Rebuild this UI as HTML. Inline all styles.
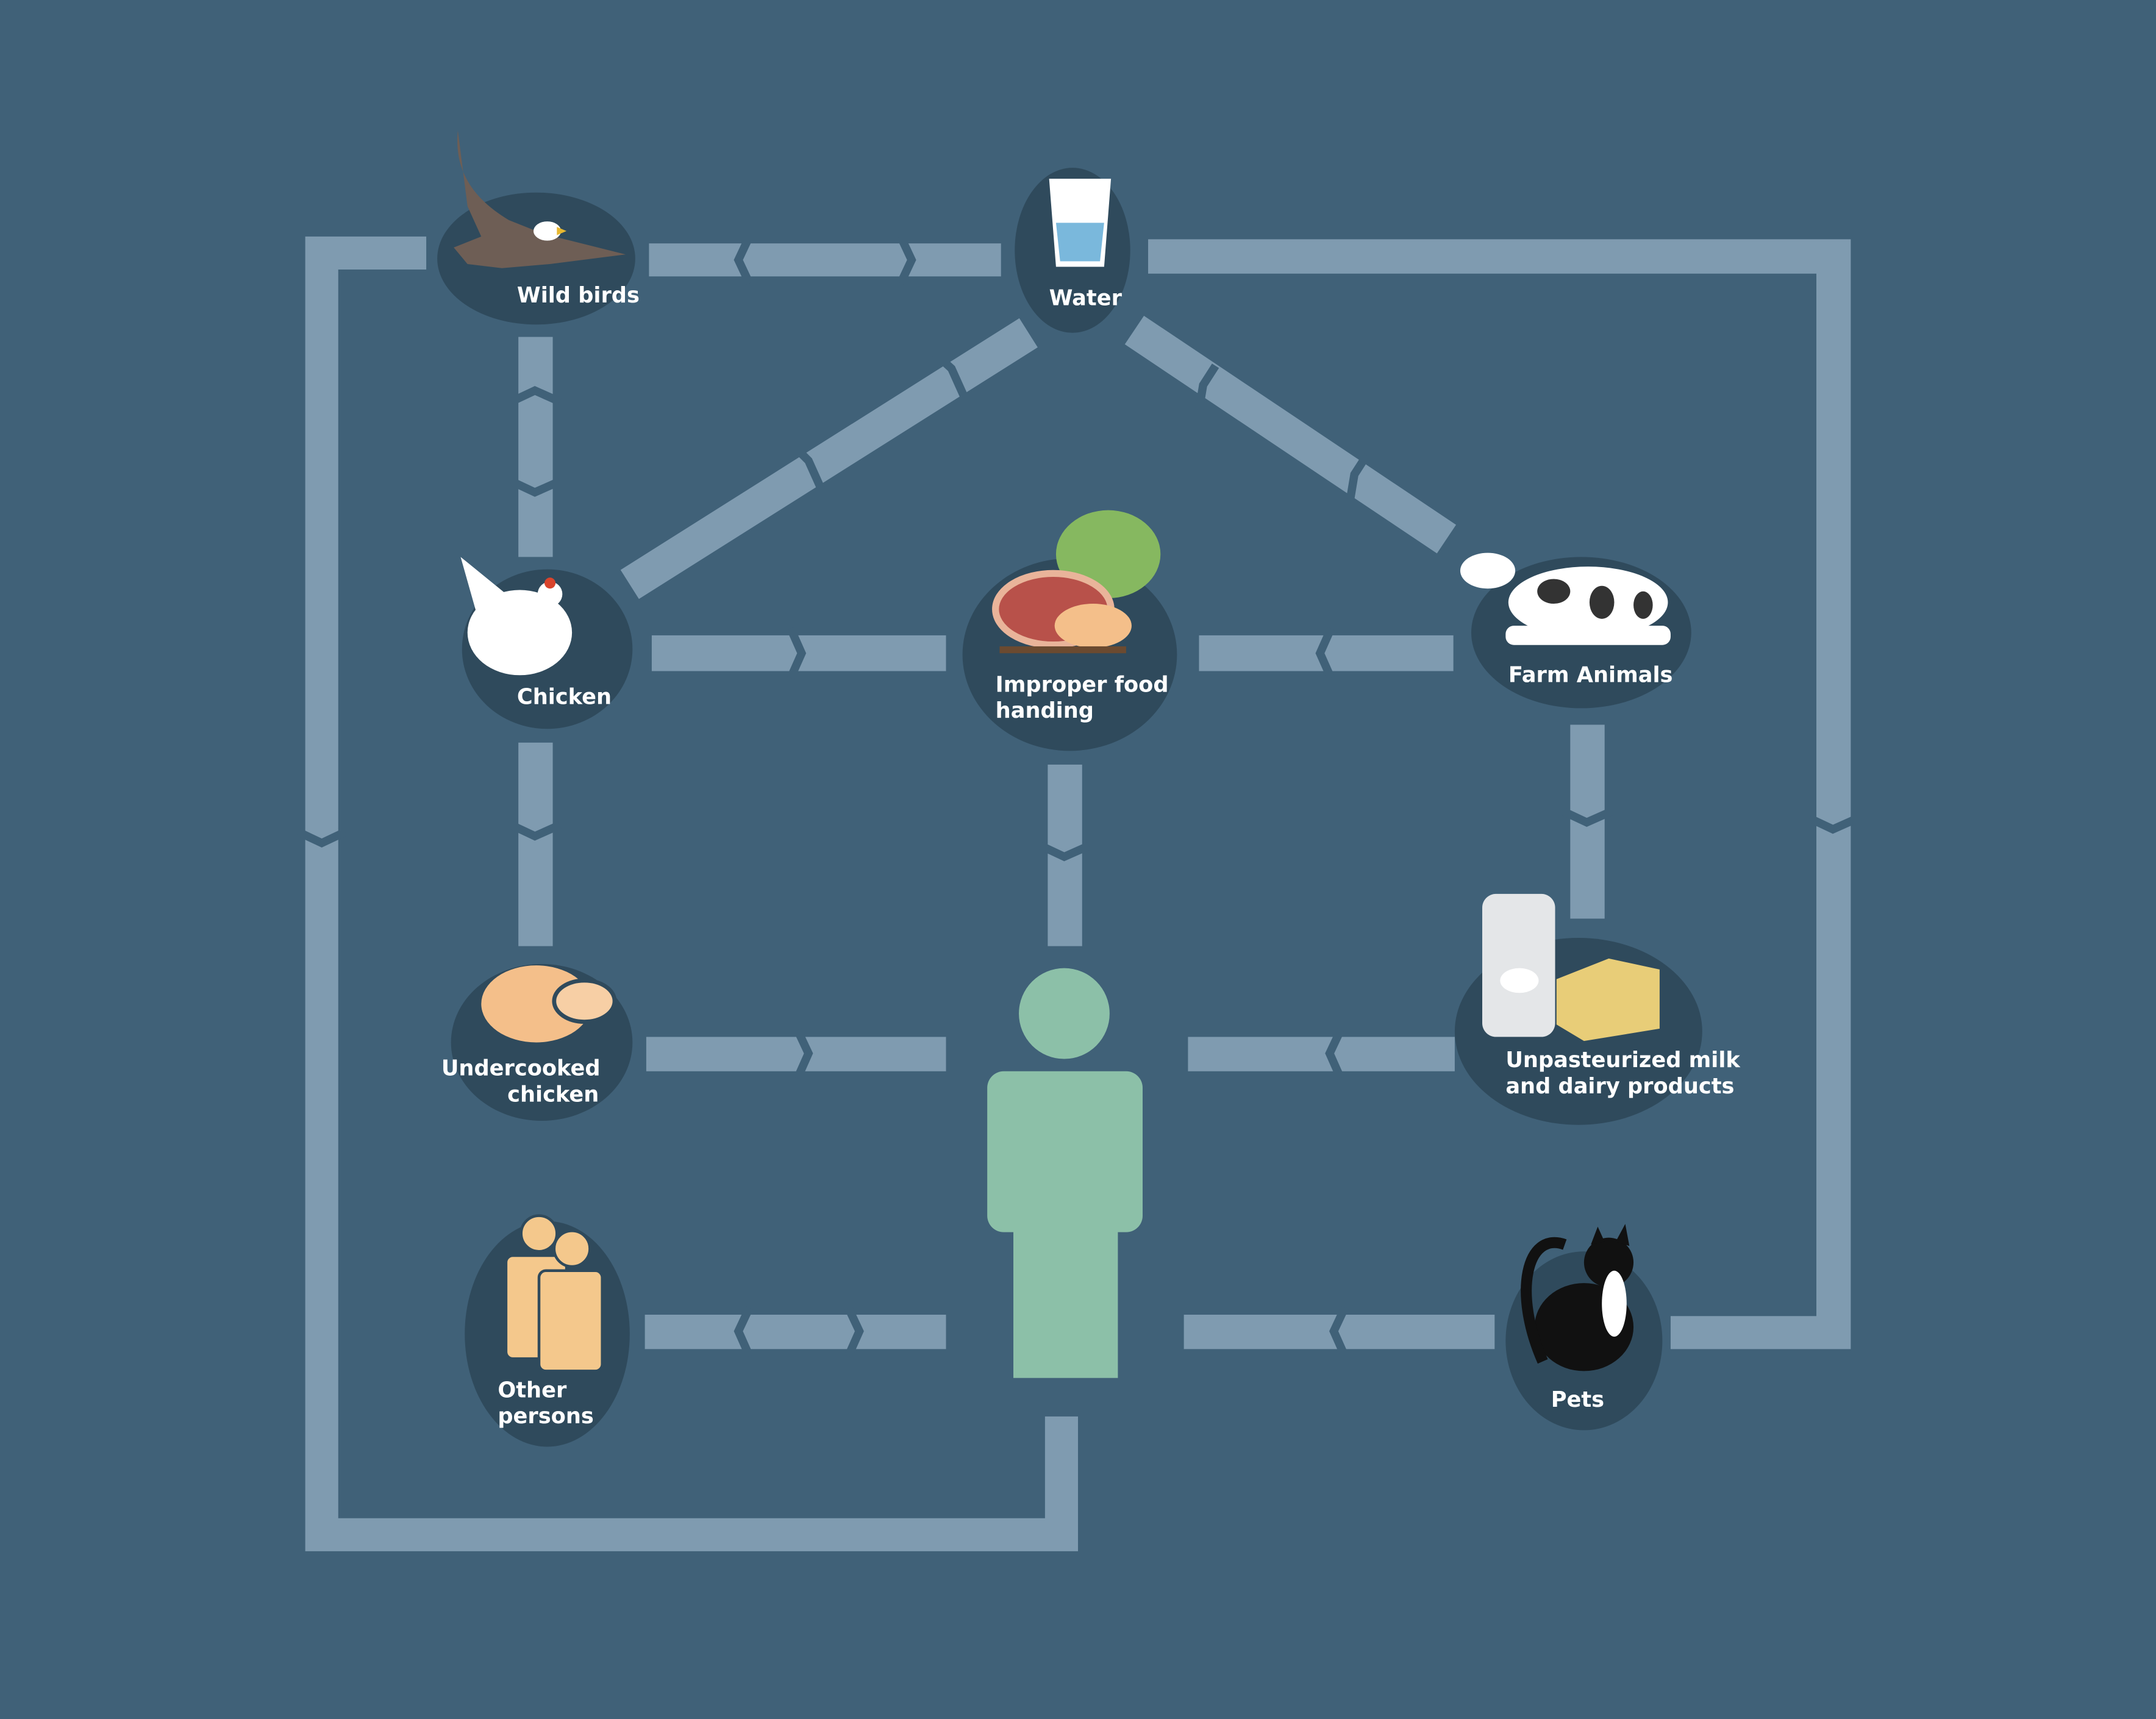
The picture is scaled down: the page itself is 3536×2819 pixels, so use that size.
<!DOCTYPE html>
<html><head><meta charset="utf-8"><style>
html,body{margin:0;padding:0;background:#406178;}
svg{display:block}
text{font-family:"DejaVu Sans","Liberation Sans",sans-serif;font-weight:bold;font-size:15.6px;fill:#fff}
</style></head><body>
<svg width="3536" height="2819" viewBox="0 0 1568 1250" preserveAspectRatio="none" xmlns="http://www.w3.org/2000/svg">
<rect width="1568" height="1250" fill="#406178"/>
<g fill="#7f9bb0">
 <polygon points="222,172 310,172 310,196 246,196 246,1104 760,1104 760,1030 784,1030 784,1128 222,1128"/>
 <polygon points="835,174 1346,174 1346,981 1215,981 1215,957 1321,957 1321,199 835,199"/>
 <rect x="472" y="177" width="256" height="24"/>
 <rect x="377" y="245" width="25" height="160"/>
 <rect x="377" y="540" width="25" height="148"/>
 <rect x="474" y="462" width="214" height="26"/>
 <rect x="872" y="462" width="185" height="26"/>
 <rect x="762" y="556" width="25" height="132"/>
 <rect x="470" y="754" width="218" height="25"/>
 <rect x="864" y="754" width="194" height="25"/>
 <rect x="469" y="956" width="219" height="25"/>
 <rect x="861" y="956" width="226" height="25"/>
 <rect x="1142" y="527" width="25" height="141"/>
 <line x1="748" y1="242" x2="458" y2="425" stroke="#7f9bb0" stroke-width="25"/>
 <line x1="825" y1="240" x2="1052" y2="392" stroke="#7f9bb0" stroke-width="25"/>
</g>
<g fill="none" stroke="#406178" stroke-width="6">
 <polyline points="545,172 537,189 545,206"/><polyline points="655,172 663,189 655,206"/>
 <polyline points="372,292 389,284 407,292"/><polyline points="372,350 389,358 407,350"/>
 <polyline points="372,600 389,608 407,600"/>
 <polyline points="575,457 583,475 575,493"/>
 <polyline points="968,457 960,475 968,493"/>
 <polyline points="757,615 774,623 792,615"/>
 <polyline points="580,749 588,766 580,784"/>
 <polyline points="975,749 967,766 975,784"/>
 <polyline points="545,951 537,968 545,986"/><polyline points="617,951 625,968 617,986"/>
 <polyline points="978,951 970,968 978,986"/>
 <polyline points="1137,590 1154,598 1172,590"/>
 <polyline points="217,605 234,613 251,605"/>
 <polyline points="1316,595 1333,603 1351,595"/>
 <polyline points="680,257 692,268 701,288"/><polyline points="576,323 588,335 597,355"/>
 <polyline points="884,266 875,280 872,298"/><polyline points="994,331 985,345 982,363"/>
</g>
<g fill="#2f4a5c">
 <ellipse cx="390" cy="188" rx="72" ry="48"/>
 <ellipse cx="780" cy="182" rx="42" ry="60"/>
 <ellipse cx="398" cy="472" rx="62" ry="58"/>
 <ellipse cx="778" cy="476" rx="78" ry="70"/>
 <ellipse cx="1150" cy="460" rx="80" ry="55"/>
 <ellipse cx="394" cy="758" rx="66" ry="57"/>
 <ellipse cx="1148" cy="750" rx="90" ry="68"/>
 <ellipse cx="398" cy="970" rx="60" ry="82"/>
 <ellipse cx="1152" cy="975" rx="57" ry="65"/>
</g>
<g>
 <path d="M333,95 C330,125 345,145 370,160 L395,170 L455,185 L400,192 L365,195 L340,192 L330,180 L350,172 L340,150 Z" fill="#6e5e55"/>
 <ellipse cx="398" cy="168" rx="10" ry="7" fill="#fff"/>
 <path d="M405,165 L412,168 L405,171 Z" fill="#e8b830"/>
 <path d="M763,130 L808,130 L803,194 L768,194 Z" fill="#fff"/>
 <path d="M768,162 L803,162 L800,190 L771,190 Z" fill="#7ab8dc"/>
 <ellipse cx="378" cy="460" rx="38" ry="31" fill="#fff"/>
 <path d="M335,405 L378,440 L350,458 Z" fill="#fff"/>
 <circle cx="400" cy="432" r="9" fill="#fff"/><circle cx="400" cy="424" r="4" fill="#d9442c"/>
 <ellipse cx="806" cy="403" rx="38" ry="32" fill="#86b860"/>
 <ellipse cx="766" cy="443" rx="42" ry="26" fill="#b8514a" stroke="#e9b49a" stroke-width="5"/>
 <ellipse cx="795" cy="455" rx="28" ry="16" fill="#f4bf8a"/>
 <rect x="727" y="470" width="92" height="5" fill="#6b4a30"/>
 <g>
  <ellipse cx="1155" cy="438" rx="58" ry="26" fill="#fff"/>
  <ellipse cx="1082" cy="415" rx="20" ry="13" fill="#fff"/>
  <rect x="1095" y="455" width="120" height="14" rx="6" fill="#fff"/>
  <ellipse cx="1130" cy="430" rx="12" ry="9" fill="#333"/><ellipse cx="1165" cy="438" rx="9" ry="12" fill="#333"/><ellipse cx="1195" cy="440" rx="7" ry="10" fill="#333"/>
 </g>
 <g>
  <ellipse cx="390" cy="730" rx="40" ry="28" fill="#f4bf8a"/>
  <ellipse cx="425" cy="728" rx="22" ry="15" fill="#f7cfa5" stroke="#2f4a5c" stroke-width="3"/>
 </g>
 <g>
  <rect x="1078" y="650" width="53" height="104" rx="10" fill="#e4e6e8"/>
  <ellipse cx="1105" cy="713" rx="14" ry="9" fill="#fff"/>
  <path d="M1132,712 L1170,697 L1207,705 L1207,748 L1152,757 L1132,745 Z" fill="#e8cd78"/>
 </g>
 <g>
  <ellipse cx="1152" cy="965" rx="36" ry="32" fill="#111"/>
  <ellipse cx="1170" cy="918" rx="18" ry="18" fill="#111"/>
  <path d="M1157,905 L1162,892 L1167,903 Z M1175,903 L1182,890 L1185,906 Z" fill="#111"/>
  <ellipse cx="1174" cy="948" rx="9" ry="24" fill="#fff"/>
  <path d="M1122,990 C1100,940 1110,895 1138,905" fill="none" stroke="#111" stroke-width="8"/>
 </g>
 <g fill="#f4c88c" stroke="#2f4a5c" stroke-width="2">
  <circle cx="392" cy="897" r="13"/><rect x="368" y="913" width="44" height="75" rx="5"/>
  <circle cx="416" cy="908" r="13"/><rect x="392" y="924" width="46" height="73" rx="5"/>
 </g>
</g>
<g fill="#8cc0a8">
 <circle cx="774" cy="737" r="33"/>
 <rect x="718" y="779" width="113" height="117" rx="12"/>
 <rect x="737" y="880" width="76" height="122"/>
</g>
<g>
 <text x="376" y="220">Wild birds</text>
 <text x="763" y="222">Water</text>
 <text x="376" y="512">Chicken</text>
 <text x="724" y="503">Improper food</text><text x="724" y="522">handing</text>
 <text x="1097" y="496">Farm Animals</text>
 <text x="321" y="782">Undercooked</text><text x="369" y="801">chicken</text>
 <text x="1095" y="776">Unpasteurized milk</text><text x="1095" y="795">and dairy products</text>
 <text x="362" y="1016">Other</text><text x="362" y="1035">persons</text>
 <text x="1128" y="1023">Pets</text>
</g>
</svg>
</body></html>
